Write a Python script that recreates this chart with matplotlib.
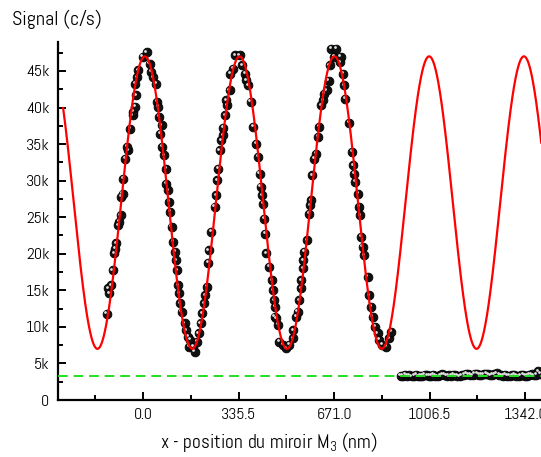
import numpy as np
import matplotlib
matplotlib.use("Agg")
import matplotlib.pyplot as plt
import matplotlib.transforms as mtransforms
from matplotlib.ticker import FixedLocator, FuncFormatter

plt.rcParams['font.family'] = ['Abel', 'DejaVu Sans']
plt.rcParams['mathtext.fontset'] = 'custom'
plt.rcParams['mathtext.rm'] = 'Abel'
plt.rcParams['mathtext.it'] = 'Abel'

# measured signal on the interference fringes (nm, c/s)
x_fringes = [-128, -119, -123, -113, -107, -103, -99, -96, -88, -84, -79, -76, -72, -70, -64,
             -53, -56, -47, -37, -35, -29, -26, -29, -21, -18, -2, 12, 23, 29, 35,
             47, 49, 53, 56, 65, 61, 68, 73, 80, 82, 88, 91, 96, 100, 105,
             111, 115, 119, 123, 126, 131, 135, 146, 150, 158, 161,
             164, 175, 181, 191, 195, 202, 207, 214, 219, 226, 228, 230, 240, 251,
             257, 261, 263, 269, 275, 280, 280, 289, 296, 292, 304, 307, 316, 322, 339,
             347, 357, 363, 368, 378, 386, 398, 403, 409, 413, 417, 421, 424, 429, 433,
             444, 452, 456, 459, 462,
             465, 468, 473, 479, 491, 503, 514, 526, 526, 538, 543, 549, 555, 555, 561,
             563, 567, 575, 582, 587, 590, 594, 602, 608, 614, 617, 625, 631, 637, 645,
             652, 655, 661, 678, 672, 692, 694,
             704, 707, 711, 725, 734, 739, 742, 746, 754, 760, 762, 766, 771, 777,
             789, 795, 801, 806, 816, 824, 830, 839, 853, 865, 871]
y_fringes = [11750, 14580, 15260, 15710, 17760, 20040, 20720, 21410, 23900, 24360, 25270, 27770, 28240, 30280, 33020,
             34150, 34600, 37110, 38930, 39380, 40070, 41660, 43260, 44160, 45080, 46900, 47580, 45990, 44850, 44160,
             43260, 40750, 40070, 38700, 37570, 36430, 34600, 33470, 31650, 29600, 28690, 27090, 25720, 23670, 21620,
             20260, 19120, 17760, 15710, 14580, 13210, 12060, 10480, 9560, 8650, 7280,
             8200, 7280, 6600, 7960, 9110, 10480, 11840, 13210, 14340, 15480, 18760, 20490, 22990, 26400,
             28000, 30050, 31650, 34150, 35520, 36200, 37250, 38930, 40300, 40980, 42350, 44630, 45310, 47130, 47130,
             45760, 44630, 43710, 43030, 40750, 37330, 35070, 33240, 30970, 29140, 28000, 26870, 24820, 22770, 20040,
             18210, 16390, 15030, 13660, 11380,
             12750, 11160, 10250, 7960, 7510, 7060, 7510, 8430, 9560, 11380, 12060, 13660, 15260, 16390, 17990,
             19120, 20260, 21860, 25500, 26640, 27320, 30740, 33020, 33700, 35970, 37330, 40300, 40980, 41900, 42350,
             43620, 45760, 48040, 48040, 46900, 46210, 46900,
             44630, 43030, 41210, 37880, 33920, 32100, 30970, 29820, 28240, 26400, 25270, 22310, 20940, 19810,
             16840, 14340, 12750, 11380, 10010, 9110, 8200, 7510, 7280, 8430, 9330]

# background signal (beam blocked)
x_bg = [905, 912, 920, 928, 935, 943, 951, 958, 966, 974, 981, 989, 997, 1004, 1012, 1020, 1027, 1035, 1043, 1050,
        1058, 1066, 1073, 1081, 1089, 1096, 1104, 1112, 1119, 1127, 1135, 1142, 1150, 1158, 1165, 1173, 1181, 1188,
        1196, 1204, 1211, 1219, 1227, 1234, 1242, 1250, 1257, 1265, 1273, 1280, 1288, 1296, 1303, 1311, 1319, 1326,
        1334, 1342, 1349, 1357, 1365, 1372, 1380, 1388, 1395]
y_bg = [3350, 3300, 3420, 3280, 3380, 3250, 3330, 3410, 3260, 3350, 3300, 3460, 3390, 3280, 3330, 3420, 3310, 3250,
        3380, 3500, 3420, 3300, 3360, 3280, 3450, 3390, 3330, 3270, 3400, 3480, 3550, 3500, 3420, 3380, 3560, 3610,
        3480, 3420, 3530, 3600, 3490, 3380, 3430, 3520, 3680, 3470, 3380, 3300, 3420, 3350, 3290, 3380, 3460, 3330,
        3250, 3400, 3470, 3350, 3280, 3410, 3520, 3390, 3460, 3900, 3550]
bg_level = 3300

# cosine fit parameters
fit_offset = 27000
fit_amp = 20000
fit_period = 333.0
fit_x0 = 6.0
fit_start, fit_stop = -281, 1400

x_ticks = [0.0, 335.5, 671.0, 1006.5, 1342.0]
x_tick_labels = ["0.0", "335.5", "671.0", "1006.5", "1342.0"]
x_minor = [-167.75, 167.75, 503.25, 838.75, 1174.25]
y_ticks = [0, 5000, 10000, 15000, 20000, 25000, 30000, 35000, 40000, 45000]

fig = plt.figure(figsize=(5.41, 4.57), dpi=100)
ax = fig.add_axes([0.1067, 0.1247, 0.8933, 0.784])

# ball markers: dark disc + small white highlight
hl = ax.transData + mtransforms.ScaledTranslation(-1.2 / 100, 1.6 / 100, fig.dpi_scale_trans)
for xs, ys in [(x_fringes, y_fringes), (x_bg, y_bg)]:
    ax.plot(xs, ys, 'o', ms=6.3, mfc='#111111', mec='black', mew=0.6, zorder=2, clip_on=False)
    ax.plot(xs, ys, 'o', ms=2.0, mfc='#e0e0e0', mec='none', zorder=3, transform=hl, clip_on=False)

xf = np.linspace(fit_start, fit_stop, 1500)
yf = fit_offset + fit_amp * np.cos(2 * np.pi * (xf - fit_x0) / fit_period)
ax.plot(xf, yf, color='red', lw=1.6, zorder=4)

ax.axhline(bg_level, color='#22dd22', lw=1.4, ls=(0, (5, 3)), zorder=5)

ax.set_xlim(-300, 1398)
ax.set_ylim(0, 49000)

ax.spines['top'].set_visible(False)
ax.spines['right'].set_visible(False)
for s in ['left', 'bottom']:
    ax.spines[s].set_linewidth(1.6)

ax.xaxis.set_major_locator(FixedLocator(x_ticks))
ax.set_xticklabels(x_tick_labels)
ax.xaxis.set_minor_locator(FixedLocator(x_minor))
ax.yaxis.set_major_locator(FixedLocator(y_ticks))
ax.yaxis.set_minor_locator(FixedLocator([v + 2500 for v in y_ticks]))
ax.yaxis.set_major_formatter(FuncFormatter(lambda v, p: "0" if v == 0 else "%dk" % (v / 1000)))
ax.tick_params(which='major', direction='in', length=6, width=1.4, labelsize=11.5, pad=6)
ax.tick_params(which='minor', direction='in', length=3.5, width=1.4)

fig.text(0.022, 0.957, "Signal (c/s)", fontsize=14.5, ha='left', va='center')
ax.set_xlabel("x - position du miroir M$_3$ (nm)", fontsize=14)
ax.xaxis.set_label_coords(0.437, -0.083)

fig.savefig("out.png", dpi=100)
